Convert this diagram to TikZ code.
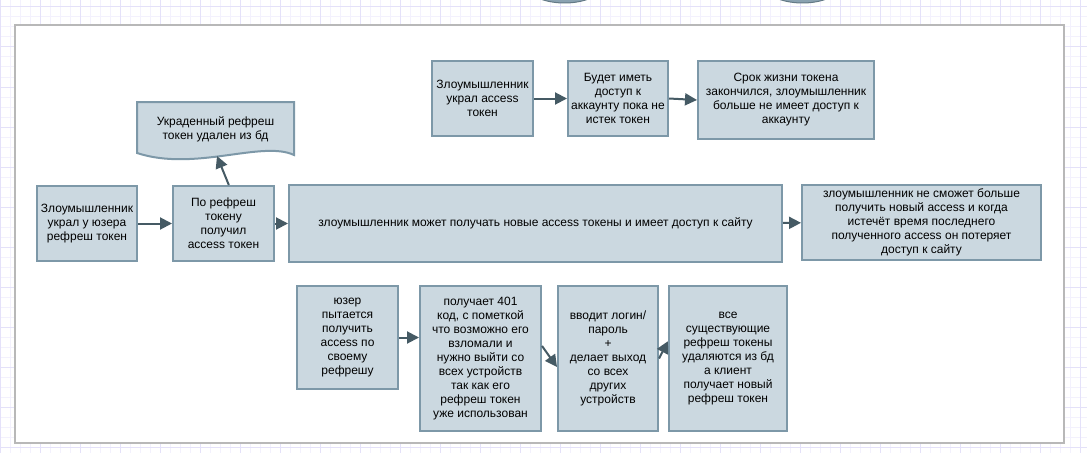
\documentclass[tikz,border=0pt]{standalone}
\usepackage{fontspec}
\setmainfont{Liberation Sans}
\usetikzlibrary{arrows.meta}

\definecolor{boxfill}{RGB}{203,216,224}
\definecolor{boxline}{RGB}{125,152,168}
\definecolor{arrowcol}{RGB}{69,90,100}
\definecolor{panelline}{RGB}{184,184,184}
\definecolor{gridminor}{RGB}{243,241,253}
\definecolor{gridmajor}{RGB}{228,225,249}

\tikzset{every picture/.style={line width=0.75pt}}
\tikzset{
  flowbox/.style={draw=boxline, fill=boxfill, line width=1.5pt, align=center, inner sep=2pt, font=\fontsize{9}{10.5}\selectfont},
  doctext/.style={align=center, inner sep=1pt, font=\fontsize{9}{10.5}\selectfont},
  flowarrow/.style={draw=arrowcol, line width=1.5pt, -{Triangle[length=9pt,width=9pt]}},
}

\begin{document}
\begin{tikzpicture}[x=0.75pt,y=0.75pt,yscale=-1,xscale=1]
	\useasboundingbox (0,0) rectangle (1087,453);
	
	%Grid
	\foreach \gx in {0.7,10.7,...,1080.7} \draw[gridminor] (\gx,0) -- (\gx,453);
	\foreach \gy in {7,17,...,447} \draw[gridminor] (0,\gy) -- (1087,\gy);
	\foreach \gx in {0.7,40.7,...,1080.7} \draw[gridmajor] (\gx,0) -- (\gx,453);
	\foreach \gy in {7,47,...,447} \draw[gridmajor] (0,\gy) -- (1087,\gy);
	
	%Shape: Ellipse (cut off above)
	\draw[draw=boxline!80!black, fill=boxline!90!white, line width=0.75pt] (564.5,-17) ellipse [x radius=40, y radius=20];
	\draw[draw=boxline!80!black, fill=boxline!90!white, line width=0.75pt] (802.5,-17) ellipse [x radius=40, y radius=20];
	
	%Shape: Rectangle (panel)
	\draw[panelline, line width=1.5pt, fill=white] (15,25) rectangle (1064,443);
	
	%Row: refresh token stolen
	\node[flowbox, minimum width=75pt, minimum height=56.25pt] (stole) at (87,223.5) {Злоумышленник\\украл у юзера\\рефреш токен};
	\node[flowbox, minimum width=75.75pt, minimum height=56.25pt] (getaccess) at (223.5,223.5) {По рефреш\\токену\\получил\\access токен};
	\node[flowbox, minimum width=369.75pt, minimum height=57.75pt] (hasaccess) at (535.5,223.5) {злоумышленник может получать новые access токены и имеет доступ к сайту};
	\node[flowbox, minimum width=179.25pt, minimum height=56.25pt] (losesaccess) at (921.5,222.5) {злоумышленник не сможет больше\\получить новый access и когда\\истечёт время последнего\\полученного access он потеряет\\доступ к сайту};
	
	%Shape: Document
	\draw[draw=boxline, fill=boxfill, line width=1.5pt] (137,102) -- (294,102) -- (294,155) .. controls (262,140) and (195,172) .. (137,153) -- cycle;
	\node[doctext] (deleted) at (215.5,129) {Украденный рефреш\\токен удален из бд};
	\coordinate (docin) at (217,156);
	
	%Row: access token stolen
	\node[flowbox, minimum width=75.75pt, minimum height=56.25pt] (stoleaccess) at (482.5,98.5) {Злоумышленник\\украл access\\токен};
	\node[flowbox, minimum width=75pt, minimum height=56.25pt] (untilexp) at (618,98.5) {Будет иметь\\доступ к\\аккаунту пока не\\истек токен};
	\node[flowbox, minimum width=132pt, minimum height=58.5pt] (expired) at (786,100) {Срок жизни токена\\закончился, злоумышленник\\больше не имеет доступ к\\аккаунту};
	
	%Row: user tries his refresh token
	\node[flowbox, minimum width=75.75pt, minimum height=77.25pt] (usertries) at (347.5,337.5) {юзер\\пытается\\получить\\access по\\своему\\рефрешу};
	\node[flowbox, minimum width=90.75pt, minimum height=108.75pt] (got401) at (480.5,358.5) {получает 401\\код, с пометкой\\что возможно его\\взломали и\\нужно выйти со\\всех устройств\\так как его\\рефреш токен\\уже использован};
	\node[flowbox, minimum width=75pt, minimum height=108.75pt] (relogin) at (608,358.5) {вводит логин/\\пароль\\+\\делает выход\\со всех\\других\\устройств};
	\node[flowbox, minimum width=88.5pt, minimum height=108.75pt] (newrefresh) at (728,358.5) {все\\существующие\\рефреш токены\\удаляются из бд\\а клиент\\получает новый\\рефреш токен};
	
	%Straight Lines
	\draw[flowarrow] (stole) -- (getaccess);
	\draw[flowarrow] (getaccess) -- (hasaccess);
	\draw[flowarrow] (hasaccess) -- (losesaccess);
	\draw[flowarrow] ([xshift=4pt]getaccess.north) -- (docin);
	\draw[flowarrow] (stoleaccess) -- (untilexp);
	\draw[flowarrow] (untilexp.east) -- (expired.west);
	\draw[flowarrow] (usertries.east) -- (usertries.east -| got401.west);
	\draw[flowarrow] ([yshift=-9.4pt]got401.east) -- ([yshift=6.4pt]relogin.west);
	\draw[flowarrow] (relogin.east) -- ([yshift=-13pt]newrefresh.west);
	
\end{tikzpicture}
\end{document}
